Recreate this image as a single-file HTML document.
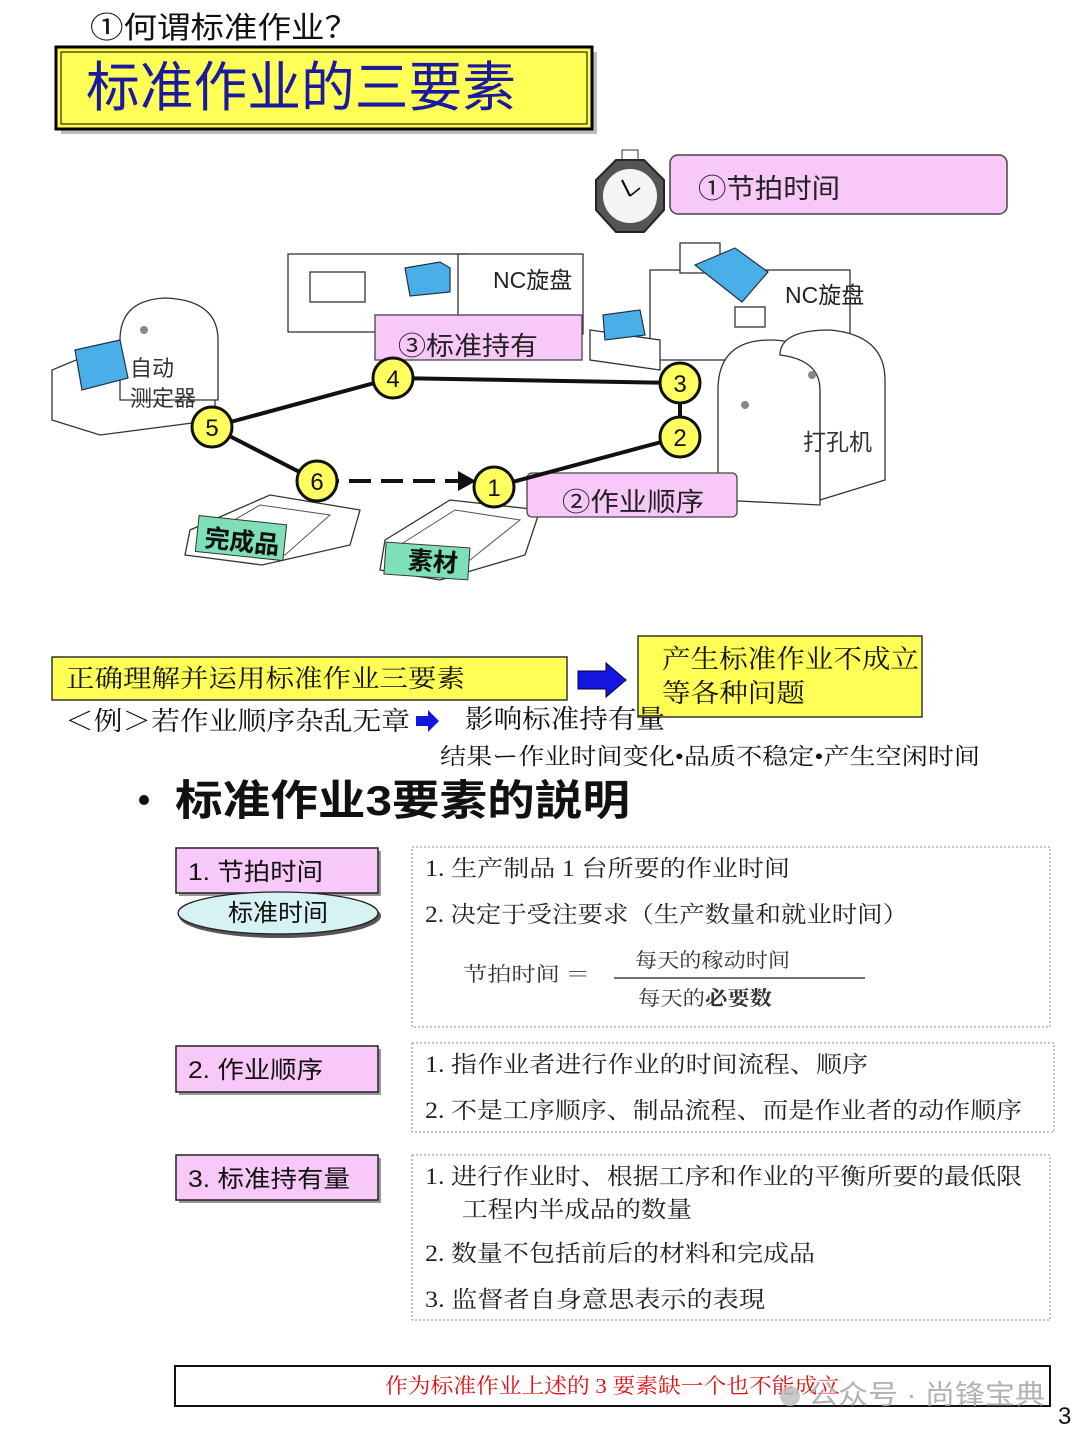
<!DOCTYPE html>
<html><head><meta charset="utf-8"><style>
html,body{margin:0;padding:0;background:#fff;}
svg{display:block;}
.s{font-family:"Liberation Sans","Noto Sans CJK SC",sans-serif;}
.r{font-family:"Liberation Serif","Noto Serif CJK SC",serif;}
</style></head><body>
<svg width="1080" height="1439" viewBox="0 0 1080 1439" xmlns="http://www.w3.org/2000/svg">
<!-- title -->
<text x="90" y="38" class="s" font-size="30" fill="#111" textLength="268" lengthAdjust="spacingAndGlyphs">①何谓标准作业？</text>
<rect x="61" y="52" width="536" height="82" fill="#bbb"/>
<rect x="56" y="47" width="536" height="82" fill="#ffff55" stroke="#000" stroke-width="3"/>
<rect x="61" y="52" width="526" height="72" fill="none" stroke="#000" stroke-width="1"/>
<text x="86" y="106" class="s" font-size="54" fill="#1a1aa0" textLength="430" lengthAdjust="spacingAndGlyphs">标准作业的三要素</text>

<!-- clock -->
<polygon points="616,160 644,160 664,180 664,210 644,232 616,232 596,210 596,180" fill="#555" stroke="#222" stroke-width="2"/>
<circle cx="630" cy="196" r="27" fill="#f4f4f4"/>
<line x1="630" y1="196" x2="622" y2="180" stroke="#000" stroke-width="2"/>
<line x1="630" y1="196" x2="640" y2="188" stroke="#000" stroke-width="1.5"/>
<rect x="622" y="150" width="16" height="10" fill="none" stroke="#333"/>
<rect x="670" y="155" width="337" height="59" rx="8" fill="#f8c8f8" stroke="#444" stroke-width="1.5"/>
<text x="698" y="198" class="s" font-size="27" fill="#222" textLength="142" lengthAdjust="spacingAndGlyphs">①节拍时间</text>

<!-- machines -->
<g fill="#fff" stroke="#333" stroke-width="1.3">
<rect x="288" y="254" width="180" height="78"/>
<rect x="310" y="272" width="55" height="30"/>
<rect x="458" y="254" width="125" height="80"/>
<rect x="650" y="270" width="200" height="90"/>
<rect x="680" y="243" width="40" height="30"/>
<path d="M590,330 L660,340 L660,370 L590,360Z"/>
<rect x="735" y="307" width="30" height="20"/>
<path d="M52,370 L52,420 L100,435 L215,420 L215,365 L100,350Z"/>
<path d="M120,340 Q120,300 165,298 Q218,300 218,340 L218,400 L120,400Z"/>
<path d="M718,500 L718,390 Q718,340 770,340 Q820,340 820,390 L820,505Z"/>
<path d="M780,355 Q780,330 830,330 Q885,335 885,380 L885,480 L820,500 L820,390 Q820,360 780,355Z"/>
<path d="M190,530 L270,495 L360,510 L350,545 L262,565 L185,555Z"/>
<path d="M385,540 L450,500 L540,510 L525,555 L440,580 L380,570Z"/>
</g>
<g fill="none" stroke="#555" stroke-width="1">
<path d="M200,540 L260,505 L330,515 L285,555Z"/>
<path d="M395,548 L455,510 L520,520 L470,560Z"/>
</g>
<circle cx="144" cy="330" r="4" fill="#888"/>
<circle cx="745" cy="405" r="4" fill="#888"/>
<circle cx="812" cy="375" r="4" fill="#888"/>
<g fill="#4aaee8" stroke="#234" stroke-width="1.2">
<path d="M405,268 L440,262 L450,268 L450,292 L410,296Z"/>
<path d="M695,265 L735,248 L768,272 L742,302 Z"/>
<path d="M603,315 L640,310 L645,335 L605,340Z"/>
<path d="M75,350 L120,340 L128,378 L82,390Z"/>
</g>
<text x="493" y="288" class="s" font-size="23" fill="#222">NC旋盘</text>
<text x="785" y="303" class="s" font-size="23" fill="#222">NC旋盘</text>
<text x="130" y="376" class="s" font-size="22" fill="#333">自动</text>
<text x="130" y="406" class="s" font-size="22" fill="#333">测定器</text>
<text x="803" y="450" class="s" font-size="23" fill="#333">打孔机</text>
<rect x="197" y="520" width="88" height="36" fill="#7ee0b8" stroke="#333" transform="rotate(6 240 538)"/>
<text x="205" y="550" class="s" font-size="25" font-weight="bold" fill="#111" transform="rotate(6 240 538)">完成品</text>
<rect x="385" y="545" width="84" height="32" fill="#7ee0b8" stroke="#333" transform="rotate(4 427 560)"/>
<text x="408" y="570" class="s" font-size="25" font-weight="bold" fill="#111" transform="rotate(4 427 560)">素材</text>

<rect x="375" y="315" width="207" height="45" fill="#f8c8f8" stroke="#444" stroke-width="1.3"/>
<text x="398" y="355" class="s" font-size="26" fill="#222" textLength="140" lengthAdjust="spacingAndGlyphs">③标准持有</text>
<rect x="527" y="473" width="210" height="44" rx="5" fill="#f8c8f8" stroke="#444" stroke-width="1.3"/>
<text x="562" y="511" class="s" font-size="26" fill="#222" textLength="142" lengthAdjust="spacingAndGlyphs">②作业顺序</text>

<!-- path -->
<g stroke="#111" stroke-width="4" fill="none">
<line x1="212" y1="427" x2="393" y2="378"/>
<line x1="393" y1="378" x2="680" y2="383"/>
<line x1="680" y1="383" x2="680" y2="437"/>
<line x1="680" y1="437" x2="494" y2="487"/>
<line x1="212" y1="427" x2="317" y2="481"/>
<line x1="317" y1="481" x2="462" y2="481" stroke-dasharray="22,10"/>
</g>
<polygon points="458,471 476,481 458,491" fill="#111"/>
<g class="s" font-size="24" text-anchor="middle" fill="#111">
<circle cx="393" cy="378" r="20" fill="#ffff60" stroke="#111" stroke-width="3"/><text x="393" y="387">4</text>
<circle cx="680" cy="383" r="20" fill="#ffff60" stroke="#111" stroke-width="3"/><text x="680" y="392">3</text>
<circle cx="680" cy="437" r="20" fill="#ffff60" stroke="#111" stroke-width="3"/><text x="680" y="446">2</text>
<circle cx="212" cy="427" r="20" fill="#ffff60" stroke="#111" stroke-width="3"/><text x="212" y="436">5</text>
<circle cx="317" cy="481" r="20" fill="#ffff60" stroke="#111" stroke-width="3"/><text x="317" y="490">6</text>
<circle cx="494" cy="487" r="20" fill="#ffff60" stroke="#111" stroke-width="3"/><text x="494" y="496">1</text>
</g>

<!-- middle -->
<rect x="52" y="657" width="515" height="43" fill="#ffff55" stroke="#333" stroke-width="1.5"/>
<text x="66" y="687" class="r" font-size="25" fill="#111" textLength="399" lengthAdjust="spacingAndGlyphs">正确理解并运用标准作业三要素</text>
<polygon points="578,671 606,671 606,663 626,680 606,697 606,689 578,689" fill="#1515e0" stroke="#003" stroke-width="1"/>
<rect x="638" y="636" width="284" height="81" fill="#ffff55" stroke="#333" stroke-width="1.5"/>
<text x="662" y="668" class="r" font-size="26" fill="#111" textLength="257" lengthAdjust="spacingAndGlyphs">产生标准作业不成立</text>
<text x="662" y="702" class="r" font-size="26" fill="#111" textLength="143" lengthAdjust="spacingAndGlyphs">等各种问题</text>
<text x="65" y="730" class="r" font-size="26" fill="#111" textLength="345" lengthAdjust="spacingAndGlyphs">＜例＞若作业顺序杂乱无章</text>
<polygon points="416,716 428,716 428,710 439,721 428,732 428,726 416,726" fill="#1515e0"/>
<text x="465" y="728" class="r" font-size="26" fill="#111" textLength="200" lengthAdjust="spacingAndGlyphs">影响标准持有量</text>
<text x="440" y="764" class="r" font-size="23" fill="#111" textLength="540" lengthAdjust="spacingAndGlyphs">结果ー作业时间变化•品质不稳定•产生空闲时间</text>
<circle cx="144" cy="800" r="5" fill="#111"/>
<text x="175" y="815" class="s" font-size="42" font-weight="bold" fill="#111" textLength="455" lengthAdjust="spacingAndGlyphs">标准作业3要素的説明</text>

<!-- section 1 -->
<rect x="179" y="851" width="202" height="45" fill="#999"/>
<rect x="176" y="848" width="202" height="45" fill="#f8c8f8" stroke="#222" stroke-width="1.5"/>
<text x="188" y="880" class="s" font-size="24" fill="#111" textLength="135" lengthAdjust="spacingAndGlyphs">1. 节拍时间</text>
<ellipse cx="280" cy="916" rx="101" ry="22" fill="#555"/>
<ellipse cx="278" cy="913" rx="100" ry="21" fill="#d6f2f2" stroke="#222" stroke-width="1.3"/>
<text x="228" y="921" class="s" font-size="24" fill="#111" textLength="100" lengthAdjust="spacingAndGlyphs">标准时间</text>
<rect x="412" y="847" width="638" height="180" fill="none" stroke="#888" stroke-dasharray="2,2"/>
<text x="425" y="876" class="r" font-size="23" fill="#222" textLength="365" lengthAdjust="spacingAndGlyphs">1. 生产制品 1 台所要的作业时间</text>
<text x="425" y="922" class="r" font-size="23" fill="#222" textLength="483" lengthAdjust="spacingAndGlyphs">2. 决定于受注要求（生产数量和就业时间）</text>
<text x="463" y="981" class="r" font-size="20" fill="#333" textLength="127" lengthAdjust="spacingAndGlyphs">节拍时间  ＝</text>
<text x="635" y="967" class="r" font-size="20" fill="#333" textLength="155" lengthAdjust="spacingAndGlyphs">每天的稼动时间</text>
<line x1="614" y1="978" x2="865" y2="978" stroke="#444" stroke-width="1.5"/>
<text x="638" y="1005" class="r" font-size="20" fill="#333" textLength="134" lengthAdjust="spacingAndGlyphs">每天的<tspan font-weight="bold">必要数</tspan></text>

<!-- section 2 -->
<rect x="179" y="1049" width="202" height="46" fill="#999"/>
<rect x="176" y="1046" width="202" height="46" fill="#f8c8f8" stroke="#222" stroke-width="1.5"/>
<text x="188" y="1078" class="s" font-size="24" fill="#111" textLength="135" lengthAdjust="spacingAndGlyphs">2. 作业顺序</text>
<rect x="412" y="1043" width="642" height="89" fill="none" stroke="#888" stroke-dasharray="2,2"/>
<text x="425" y="1072" class="r" font-size="23" fill="#222" textLength="443" lengthAdjust="spacingAndGlyphs">1. 指作业者进行作业的时间流程、顺序</text>
<text x="425" y="1118" class="r" font-size="23" fill="#222" textLength="597" lengthAdjust="spacingAndGlyphs">2. 不是工序顺序、制品流程、而是作业者的动作顺序</text>

<!-- section 3 -->
<rect x="179" y="1158" width="202" height="45" fill="#999"/>
<rect x="176" y="1155" width="202" height="45" fill="#f8c8f8" stroke="#222" stroke-width="1.5"/>
<text x="188" y="1187" class="s" font-size="24" fill="#111" textLength="162" lengthAdjust="spacingAndGlyphs">3. 标准持有量</text>
<rect x="412" y="1155" width="638" height="165" fill="none" stroke="#888" stroke-dasharray="2,2"/>
<text x="425" y="1184" class="r" font-size="23" fill="#222" textLength="597" lengthAdjust="spacingAndGlyphs">1. 进行作业时、根据工序和作业的平衡所要的最低限</text>
<text x="462" y="1217" class="r" font-size="23" fill="#222" textLength="230" lengthAdjust="spacingAndGlyphs">工程内半成品的数量</text>
<text x="425" y="1261" class="r" font-size="23" fill="#222" textLength="390" lengthAdjust="spacingAndGlyphs">2. 数量不包括前后的材料和完成品</text>
<text x="425" y="1307" class="r" font-size="23" fill="#222" textLength="340" lengthAdjust="spacingAndGlyphs">3. 监督者自身意思表示的表現</text>

<!-- bottom -->
<rect x="175" y="1366" width="875" height="40" fill="none" stroke="#111" stroke-width="2"/>
<text x="385" y="1393" class="r" font-size="21" fill="#e01010" textLength="455" lengthAdjust="spacingAndGlyphs">作为标准作业上述的 3 要素缺一个也不能成立</text>
<text x="808" y="1404" class="s" font-size="27" fill="#aaa" opacity="0.9" textLength="237" lengthAdjust="spacingAndGlyphs">公众号 · 尚锋宝典</text>
<circle cx="790" cy="1396" r="10" fill="#bbb" opacity="0.8"/>
<text x="1058" y="1424" class="s" font-size="24" fill="#111">3</text>
</svg>
</body></html>
